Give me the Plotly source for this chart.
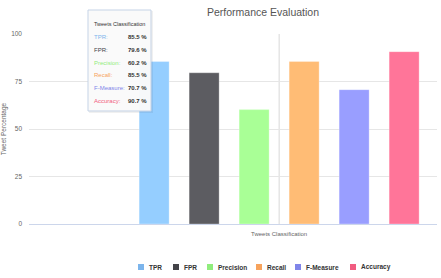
import plotly.graph_objects as go

# ---- data ----
category = ["Tweets Classification"]
series_names = ["TPR", "FPR", "Precision", "Recall", "F-Measure", "Accuracy"]
series_values = [85.5, 79.6, 60.2, 85.5, 70.7, 90.7]
base_colors = ["#7cb5ec", "#434348", "#90ed7d", "#f7a35c", "#8085e9", "#f15c80"]
bar_colors = ["#95ceff", "#5c5c61", "#a9ff96", "#ffbc75", "#999eff", "#ff7599"]
y_ticks = [0, 25, 50, 75, 100]
title_text = "Performance Evaluation"
y_title = "Tweet Percentage"

# ---- layout constants (pixels) ----
W, H = 441, 278
L, R, T, B = 29, 437, 34, 224
FONT = "Liberation Sans"


def pxx(x):
    return (x - L) / (R - L)


def pxy(y):
    return (B - y) / (B - T)


fig = go.Figure()
for name, val, col in zip(series_names, series_values, bar_colors):
    fig.add_trace(go.Bar(
        x=category, y=[val], name=name,
        marker=dict(color=col, line=dict(color="rgba(255,255,255,0.6)", width=0.5)),
        showlegend=False,
    ))

shapes = []
annotations = []

# crosshair at category centre
shapes.append(dict(type="line", xref="x", yref="paper", x0=category[0], x1=category[0],
                   y0=0, y1=1, line=dict(color="#d8d8d8", width=1), layer="below"))

# custom legend
leg_x = [138, 173, 207, 256, 295, 350]
leg_y = 267
for name, col, lx in zip(series_names, base_colors, leg_x):
    shapes.append(dict(type="rect", xref="paper", yref="paper",
                       x0=pxx(lx), x1=pxx(lx + 6), y0=pxy(leg_y + 3), y1=pxy(leg_y - 3),
                       fillcolor=col, line=dict(width=0), layer="above"))
    annotations.append(dict(xref="paper", yref="paper", x=pxx(lx + 9), y=pxy(leg_y),
                            xanchor="left", yanchor="middle", showarrow=False,
                            text="<b>%s</b>" % name,
                            font=dict(family=FONT, size=6.5, color="#333333")))

# tooltip
tx0, tx1, ty0, ty1 = 88, 151, 10, 111
shapes.append(dict(type="rect", xref="paper", yref="paper",
                   x0=pxx(tx0 + 1), x1=pxx(tx1 + 2), y0=pxy(ty1 + 2), y1=pxy(ty0 + 1),
                   fillcolor="rgba(0,0,0,0.06)", line=dict(width=0), layer="above"))
shapes.append(dict(type="rect", xref="paper", yref="paper",
                   x0=pxx(tx0), x1=pxx(tx1), y0=pxy(ty1), y1=pxy(ty0),
                   fillcolor="rgba(250,250,250,0.97)", line=dict(color="#c5d3e6", width=1),
                   layer="above"))
annotations.append(dict(xref="paper", yref="paper", x=pxx(92), y=pxy(24),
                        xanchor="left", yanchor="middle", showarrow=False,
                        text=category[0], font=dict(family=FONT, size=5.5, color="#333333")))
row_y0, row_dy = 37, 12.8
for i, (name, val, col) in enumerate(zip(series_names, series_values, base_colors)):
    yy = row_y0 + i * row_dy
    annotations.append(dict(xref="paper", yref="paper", x=pxx(92), y=pxy(yy),
                            xanchor="left", yanchor="middle", showarrow=False,
                            text="%s:" % name, font=dict(family=FONT, size=6, color=col)))
    annotations.append(dict(xref="paper", yref="paper", x=pxx(149), y=pxy(yy),
                            xanchor="right", yanchor="middle", showarrow=False,
                            text="<b>%.1f %%</b>" % val,
                            font=dict(family=FONT, size=6, color="#333333")))

fig.update_layout(
    width=W, height=H,
    margin=dict(l=L, r=W - R, t=T, b=H - B),
    paper_bgcolor="white", plot_bgcolor="white",
    barmode="group", bargap=0.2, bargroupgap=0.4,
    title=dict(text=title_text, x=263 / W, xanchor="center", xref="container",
               y=1 - 12 / H, yanchor="middle", yref="container",
               font=dict(family=FONT, size=10.5, color="#555555")),
    xaxis=dict(type="category", range=[-0.667, 0.421], showgrid=False,
               showline=True, linecolor="#ccd6eb", linewidth=1, ticks="",
               ticklabelstandoff=4,
               tickfont=dict(family=FONT, size=6, color="#666666"), fixedrange=True),
    yaxis=dict(range=[0, 100], tickvals=y_ticks, showgrid=True, gridcolor="#e6e6e6",
               gridwidth=1, zeroline=False, showline=False, ticks="",
               ticklabelstandoff=6,
               tickfont=dict(family=FONT, size=6.5, color="#666666"),
               title=dict(text=y_title, font=dict(family=FONT, size=6.5, color="#666666"),
                          standoff=4)),
    shapes=shapes, annotations=annotations,
    showlegend=False,
)

fig.write_html("out.html")
